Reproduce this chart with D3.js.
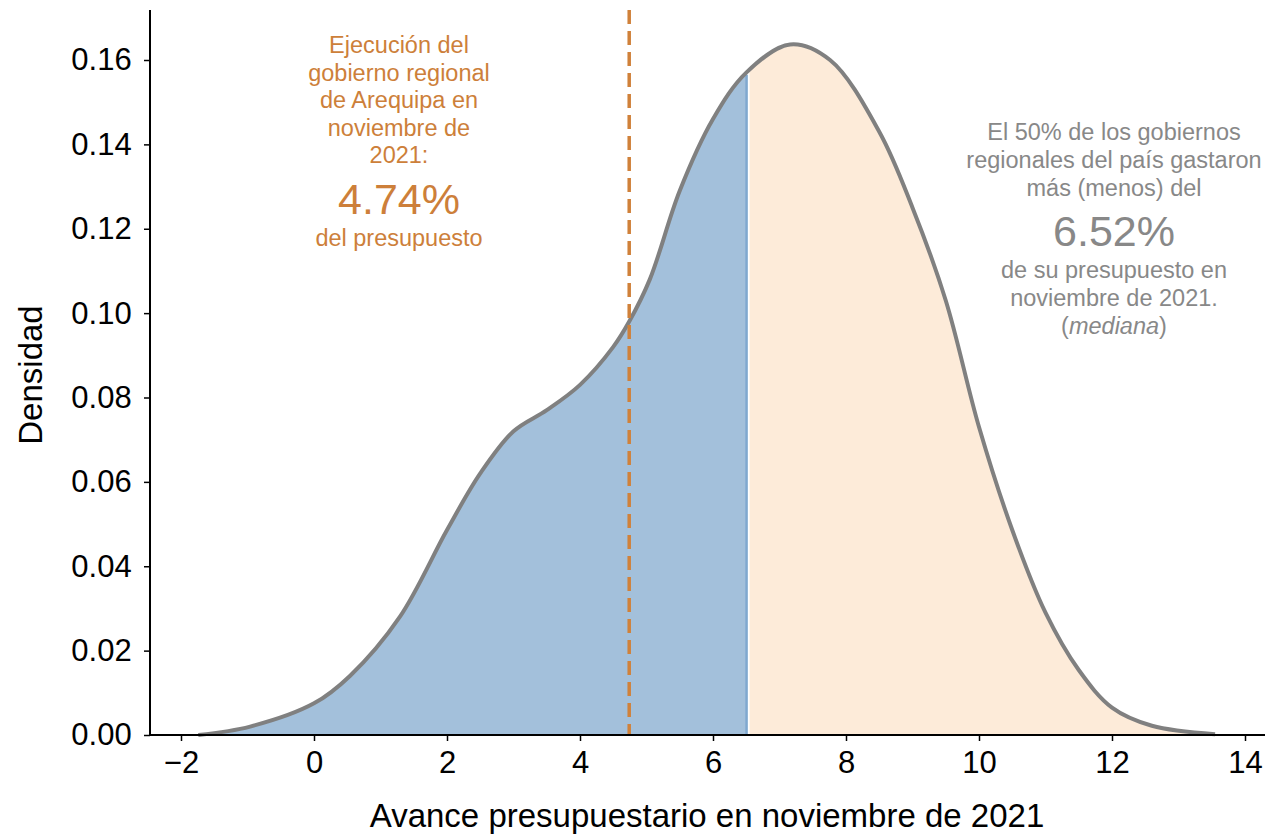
<!DOCTYPE html>
<html><head><meta charset="utf-8">
<script src="https://cdn.jsdelivr.net/npm/d3@7"></script>
<style>body{margin:0;background:#fff;font-family:"Liberation Sans",Arial,sans-serif}</style>
</head><body><svg id="c" width="1281" height="834" font-family="Liberation Sans, Arial, sans-serif"></svg>
<script>
const xs = [-1.74,-0.96,0,0.54,1.29,2,2.5,3,3.5,4,4.5,4.74,5.05,5.5,6,6.5,7.16,7.76,8.5,9,9.5,10,10.5,11,11.5,12,12.6,13.55];
const dens = [0,0.002,0.0075,0.014,0.028,0.0486,0.062,0.072,0.077,0.083,0.092,0.098,0.108,0.129,0.146,0.157,0.1637,0.16,0.143,0.125,0.103,0.073,0.0486,0.029,0.0154,0.0065,0.0022,0.0002];
const xTicks = [-2,0,2,4,6,8,10,12,14];
const yTicks = [0,0.02,0.04,0.06,0.08,0.10,0.12,0.14,0.16];
const median = 6.52, arequipa = 4.74;

const svg = d3.select("#c");
const x = d3.scaleLinear().domain([0,14]).range([314,1245]);
const y = d3.scaleLinear().domain([0,0.16]).range([735,60]);
const pts = xs.map((v,i)=>[v,dens[i]]);

const defs = svg.append("defs");
defs.append("clipPath").attr("id","cl").append("rect").attr("x",0).attr("y",0).attr("width",x(median)-1).attr("height",735);
defs.append("clipPath").attr("id","cr").append("rect").attr("x",x(median)+2).attr("y",0).attr("width",1281).attr("height",735);

const area = d3.area().x(d=>x(d[0])).y0(y(0)).y1(d=>y(d[1])).curve(d3.curveCatmullRom);
const line = d3.line().x(d=>x(d[0])).y(d=>y(d[1])).curve(d3.curveCatmullRom);
svg.append("path").attr("d",area(pts)).attr("fill","#a3c0db").attr("clip-path","url(#cl)");
svg.append("path").attr("d",area(pts)).attr("fill","#fdebd9").attr("clip-path","url(#cr)");
const dm = 0.1565;
svg.append("line").attr("x1",x(median)-1).attr("x2",x(median)-1).attr("y1",y(0)).attr("y2",y(dm)).attr("stroke","#7fa8cf").attr("stroke-width",2.5);
svg.append("path").attr("d",line(pts)).attr("fill","none").attr("stroke","#808080").attr("stroke-width",4);

svg.append("line").attr("x1",x(arequipa)).attr("x2",x(arequipa)).attr("y1",10).attr("y2",735)
  .attr("stroke","#d0813a").attr("stroke-width",3.5).attr("stroke-dasharray","14,7");

// ejes
const xa = svg.append("g").attr("transform","translate(0,735)").call(d3.axisBottom(x).tickValues(xTicks).tickSize(6).tickFormat(d=>d<0?"\u2212"+(-d):d));
xa.select(".domain").attr("d","M150,0H1265");
const ya = svg.append("g").attr("transform","translate(150,0)").call(d3.axisLeft(y).tickValues(yTicks).tickSize(6).tickFormat(d3.format(".2f")));
ya.select(".domain").attr("d","M0,10V735");
svg.selectAll("g").attr("font-family",null).attr("font-size",null);
svg.selectAll(".domain").attr("stroke","#000").attr("stroke-width",2);
svg.selectAll(".tick line").attr("stroke","#000").attr("stroke-width",1.5);
svg.selectAll(".tick text").attr("font-size",31).attr("fill","#000");
xa.selectAll(".tick text").attr("dy","0.95em");
ya.selectAll(".tick text").attr("dx","-0.3em");

svg.append("text").attr("x",707).attr("y",827).attr("text-anchor","middle").attr("font-size",33).text("Avance presupuestario en noviembre de 2021");
svg.append("text").attr("transform","translate(42,375) rotate(-90)").attr("text-anchor","middle").attr("font-size",33).text("Densidad");

const oc = "#cd7f3a";
const lt = ["Ejecución del","gobierno regional","de Arequipa en","noviembre de","2021:"];
lt.forEach((t,i)=>svg.append("text").attr("x",399).attr("y",53+i*27.5).attr("text-anchor","middle").attr("font-size",23.5).attr("fill",oc).text(t));
svg.append("text").attr("x",399).attr("y",214).attr("text-anchor","middle").attr("font-size",43).attr("fill",oc).text("4.74%");
svg.append("text").attr("x",399).attr("y",246).attr("text-anchor","middle").attr("font-size",23.5).attr("fill",oc).text("del presupuesto");

const gc = "#888";
["El 50% de los gobiernos","regionales del país gastaron","más (menos) del"].forEach((t,i)=>svg.append("text").attr("x",1114).attr("y",140+i*28).attr("text-anchor","middle").attr("font-size",23.5).attr("fill",gc).text(t));
svg.append("text").attr("x",1114).attr("y",246).attr("text-anchor","middle").attr("font-size",43).attr("fill",gc).text("6.52%");
["de su presupuesto en","noviembre de 2021."].forEach((t,i)=>svg.append("text").attr("x",1114).attr("y",278+i*28).attr("text-anchor","middle").attr("font-size",23.5).attr("fill",gc).text(t));
const m = svg.append("text").attr("x",1114).attr("y",334).attr("text-anchor","middle").attr("font-size",23.5).attr("fill",gc);
m.append("tspan").text("(");
m.append("tspan").attr("font-style","italic").text("mediana");
m.append("tspan").text(")");
</script></body></html>
